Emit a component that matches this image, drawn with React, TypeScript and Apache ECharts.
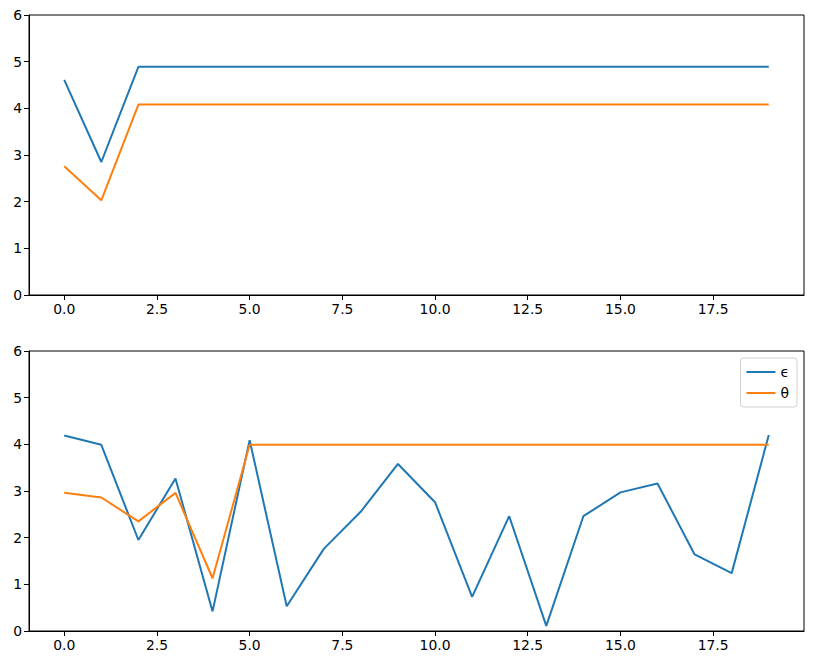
import React, { useEffect, useRef } from "react";
import * as echarts from "echarts";

const xTicks = [0, 2.5, 5, 7.5, 10, 12.5, 15, 17.5];
const yTicks = [0, 1, 2, 3, 4, 5, 6];

const topBlue = [4.61, 2.85, 4.89, 4.89, 4.89, 4.89, 4.89, 4.89, 4.89, 4.89, 4.89, 4.89, 4.89, 4.89, 4.89, 4.89, 4.89, 4.89, 4.89, 4.89];
const topOrange = [2.76, 2.03, 4.08, 4.08, 4.08, 4.08, 4.08, 4.08, 4.08, 4.08, 4.08, 4.08, 4.08, 4.08, 4.08, 4.08, 4.08, 4.08, 4.08, 4.08];

const epsilon = [4.19, 3.99, 1.95, 3.27, 0.42, 4.09, 0.53, 1.76, 2.56, 3.58, 2.76, 0.73, 2.46, 0.11, 2.46, 2.97, 3.16, 1.64, 1.24, 4.2];
const theta = [2.96, 2.86, 2.35, 2.96, 1.13, 3.99, 3.99, 3.99, 3.99, 3.99, 3.99, 3.99, 3.99, 3.99, 3.99, 3.99, 3.99, 3.99, 3.99, 3.99];

const BLUE = "#1f77b4";
const ORANGE = "#ff7f0e";
const FONT = "DejaVu Sans";

function pairs(arr: number[]) {
  return arr.map((v, i) => [i, v]);
}

export default function App() {
  const ref = useRef<HTMLDivElement>(null);
  useEffect(() => {
    if (!ref.current) return;
    const chart = echarts.init(ref.current, null, { renderer: "svg" });
    const xAxisBase = (gridIndex: number) => ({
      type: "value" as const,
      gridIndex,
      min: -0.95,
      max: 19.95,
      splitLine: { show: false },
      axisLine: { show: true, onZero: false, lineStyle: { color: "#000", width: 1 } },
      axisTick: { show: true, customValues: xTicks, length: 5, lineStyle: { color: "#000" } },
      axisLabel: {
        customValues: xTicks,
        formatter: (v: number) => v.toFixed(1),
        color: "#000",
        fontFamily: FONT,
        fontSize: 13.9,
        margin: 7,
      },
    });
    const yAxisBase = (gridIndex: number) => ({
      type: "value" as const,
      gridIndex,
      min: 0,
      max: 6,
      interval: 1,
      splitLine: { show: false },
      axisLine: { show: true, onZero: false, lineStyle: { color: "#000", width: 1 } },
      axisTick: { show: true, customValues: yTicks, length: 5, lineStyle: { color: "#000" } },
      axisLabel: {
        customValues: yTicks,
        formatter: (v: number) => String(Math.round(v)),
        color: "#000",
        fontFamily: FONT,
        fontSize: 13.9,
        margin: 7,
      },
    });
    const line = (name: string, data: number[], color: string, idx: number) => ({
      type: "line" as const,
      name,
      xAxisIndex: idx,
      yAxisIndex: idx,
      data: pairs(data),
      symbol: "none",
      lineStyle: { color, width: 2 },
      itemStyle: { color },
    });
    chart.setOption({
      animation: false,
      backgroundColor: "#fff",
      grid: [
        { left: 29, top: 15, width: 775, height: 280, show: true, borderColor: "#000", borderWidth: 1, backgroundColor: "transparent" },
        { left: 29, top: 351, width: 775, height: 280, show: true, borderColor: "#000", borderWidth: 1, backgroundColor: "transparent" },
      ],
      xAxis: [xAxisBase(0), xAxisBase(1)],
      yAxis: [yAxisBase(0), yAxisBase(1)],
      legend: {
        data: ["ϵ", "θ"],
        orient: "vertical",
        right: 16,
        top: 358,
        icon: "rect",
        itemWidth: 29,
        itemHeight: 2,
        itemGap: 5,
        padding: [6, 8, 6, 6],
        borderColor: "#d0d0d0",
        borderWidth: 1,
        borderRadius: 3,
        backgroundColor: "rgba(255,255,255,0.8)",
        textStyle: { color: "#000", fontFamily: FONT, fontSize: 13.9, lineHeight: 16 },
        selectedMode: false,
      },
      series: [
        line("top-a", topBlue, BLUE, 0),
        line("top-b", topOrange, ORANGE, 0),
        line("ϵ", epsilon, BLUE, 1),
        line("θ", theta, ORANGE, 1),
      ],
    });
    return () => chart.dispose();
  }, []);
  return (
    <div
      ref={ref}
      style={{ position: "fixed", left: 0, top: 0, width: 813, height: 665, background: "#fff" }}
    />
  );
}
